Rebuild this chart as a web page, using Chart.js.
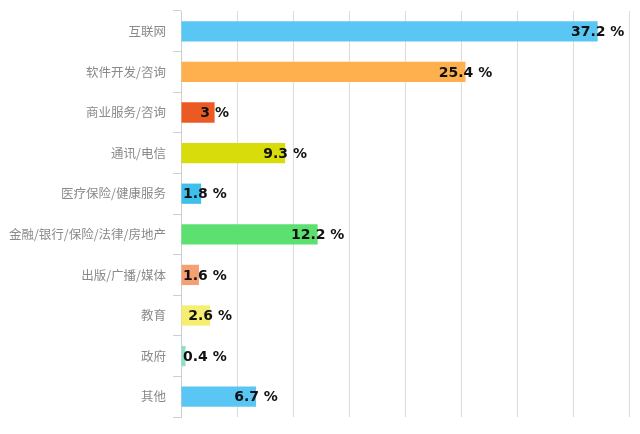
<!DOCTYPE html>
<html>
<head>
<meta charset="utf-8">
<script src="https://cdn.jsdelivr.net/npm/chart.js@4/dist/chart.umd.min.js"></script>
<style>
  html, body { margin: 0; padding: 0; background: #fff; }
  .wrap { position: relative; width: 640px; height: 434px; }
</style>
</head>
<body>
<div class="wrap"><canvas id="bar-chart"></canvas></div>
<script>
// 行业分布
const categories = ['互联网', '软件开发/咨询', '商业服务/咨询', '通讯/电信', '医疗保险/健康服务',
                    '金融/银行/保险/法律/房地产', '出版/广播/媒体', '教育', '政府', '其他'];
const percents   = [37.2, 25.4, 3, 9.3, 1.8, 12.2, 1.6, 2.6, 0.4, 6.7];
const barColors  = ['#5ac6f4', '#ffb04e', '#ec5a24', '#d8dc0a', '#3fc0ec',
                    '#5ce070', '#f4a070', '#f6ee70', '#8fe0c0', '#5ac6f4'];
const xTicks     = { min: 0, max: 40, step: 5 };

// 数值标签：以柱子末端为中心，太短时贴着坐标轴
const valueLabels = {
  id: 'valueLabels',
  afterDatasetsDraw(chart) {
    const ctx  = chart.ctx;
    const meta = chart.getDatasetMeta(0);
    const left = chart.chartArea.left;
    ctx.save();
    ctx.font = 'bold 14px "DejaVu Sans", Verdana, sans-serif';
    ctx.fillStyle = '#111';
    ctx.textAlign = 'center';
    ctx.textBaseline = 'middle';
    meta.data.forEach(function(bar, i) {
      var txt = percents[i] + ' %';
      var w = ctx.measureText(txt).width;
      var x = Math.max(bar.x, left + 2 + w / 2);
      ctx.fillText(txt, x, bar.y + 1);
    });
    ctx.restore();
  }
};

new Chart(document.getElementById('bar-chart'), {
  type: 'bar',
  data: {
    labels: categories,
    datasets: [{
      data: percents,
      backgroundColor: barColors,
      borderWidth: 0,
      categoryPercentage: 1,
      barPercentage: 0.5
    }]
  },
  options: {
    indexAxis: 'y',
    responsive: true, maintainAspectRatio: false,
    animation: false,
    layout: { padding: { top: 11, right: 11, bottom: 17, left: 0 } },
    plugins: { legend: { display: false }, tooltip: { enabled: false } },
    scales: {
      x: {
        min: xTicks.min, max: xTicks.max,
        ticks: { display: false, stepSize: xTicks.step },
        grid: { color: '#dcdcdc', drawTicks: false },
        border: { display: false }
      },
      y: {
        afterFit: function(scale) {
          scale.width = 181;
          scale.paddingTop = 0;
          scale.paddingBottom = 0;
        },
        ticks: { color: '#8a8a8a', padding: 7, font: { family: '"Noto Sans CJK SC", sans-serif', size: 12.5 } },
        grid: { drawOnChartArea: false, tickLength: 8, color: '#cfcfcf' },
        border: { color: '#cfcfcf' }
      }
    }
  },
  plugins: [valueLabels]
});
</script>
</body>
</html>
